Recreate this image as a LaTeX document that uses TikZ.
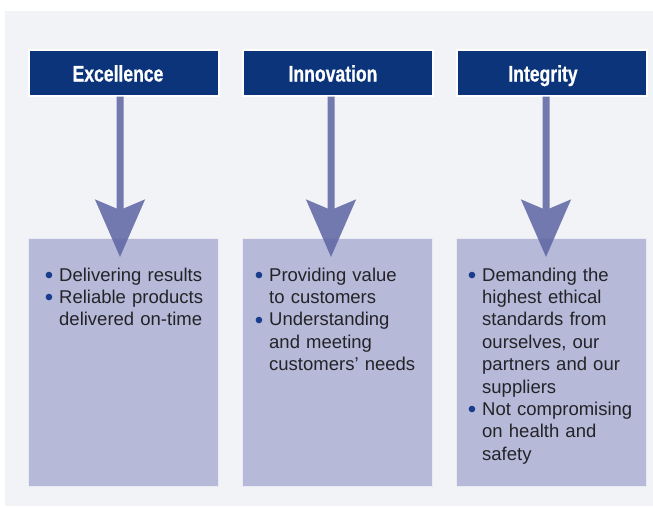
\documentclass[tikz,border=0pt]{standalone}
\usepackage{fontspec}
\setmainfont{Liberation Sans}
\newfontfamily\hdrfont[FakeStretch=0.78,FakeBold=0.6]{Liberation Sans}
\usetikzlibrary{arrows.meta}
\definecolor{panelbg}{RGB}{242,243,247}
\definecolor{navy}{RGB}{11,52,122}
\definecolor{boxfill}{RGB}{182,185,216}
\definecolor{arrowcol}{RGB}{92,100,162}
\definecolor{txt}{RGB}{35,35,40}
\definecolor{bulletcol}{RGB}{25,60,140}
\newcommand{\itm}[1]{\par\noindent\makebox[0pt][r]{\raisebox{-2.2pt}{\textcolor{bulletcol}{\scalebox{1.3}{\textbullet}}}\hspace{6pt}}#1}
\tikzset{
  header/.style={fill=navy, draw=white, line width=1.5pt, minimum width=190pt, minimum height=46pt, inner sep=0pt},
  hdrtext/.style={text=white, font=\hdrfont\bfseries\fontsize{22.5}{26}\selectfont, inner sep=0pt, anchor=base},
  body/.style={fill=boxfill, draw=white!70!boxfill, line width=1pt, minimum width=190pt, minimum height=248pt, inner sep=0pt},
  listtext/.style={text=txt, font=\fontsize{18.5}{22.4}\selectfont, anchor=north west, inner sep=0pt, text width=175pt, align=left},
  bigarrow/.style={draw=arrowcol, line width=7pt, -{Stealth[length=57pt, width=49pt, inset=10pt]}},
}
\begin{document}
\begin{tikzpicture}[x=1pt,y=-1pt]
\useasboundingbox (0,0) rectangle (653,506);
\fill[panelbg] (5,11) rectangle (653,506);
% headers
\node[header, anchor=north west] (h1) at (28,49) {};
\node[header, anchor=north west] (h2) at (242,49) {};
\node[header, anchor=north west] (h3) at (456,49) {};
\node[hdrtext] (t1) at (118,81.5) {Excellence};
\node[hdrtext] (t2) at (333,81.5) {Innovation};
\node[hdrtext] (t3) at (543,81.5) {Integrity};
% bodies
\node[body, anchor=north west] (b1) at (28,238) {};
\node[body, anchor=north west] (b2) at (242,238) {};
\node[body, anchor=north west] (b3) at (456,238) {};
% arrows
\coordinate (a1) at (120,257);
\coordinate (a2) at (331,257);
\coordinate (a3) at (546,257);
\begin{scope}[transparency group, opacity=0.85]
\draw[bigarrow] (h1.south -| a1) -- (a1);
\end{scope}
\begin{scope}[transparency group, opacity=0.85]
\draw[bigarrow] (h2.south -| a2) -- (a2);
\end{scope}
\begin{scope}[transparency group, opacity=0.85]
\draw[bigarrow] (h3.south -| a3) -- (a3);
\end{scope}
% lists
\node[listtext] (l1) at (59,258.5) {\itm{Delivering results}\itm{Reliable products\newline delivered on-time}};
\node[listtext] (l2) at (269,258.5) {\itm{Providing value\newline to customers}\itm{Understanding\newline and meeting\newline customers’ needs}};
\node[listtext] (l3) at (482,258.5) {\itm{Demanding the\newline highest ethical\newline standards from\newline ourselves, our\newline partners and our\newline suppliers}\itm{Not compromising\newline on health and\newline safety}};
\end{tikzpicture}
\end{document}
